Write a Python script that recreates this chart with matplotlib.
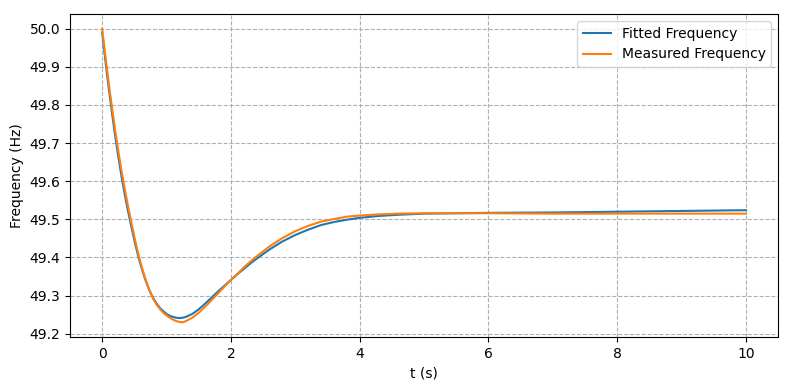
import numpy as np
import matplotlib
matplotlib.use("Agg")
import matplotlib.pyplot as plt

# values
t = [0.0, 0.05, 0.1, 0.15, 0.2, 0.25, 0.3, 0.35, 0.4, 0.45, 0.5, 0.55, 0.6,
     0.65, 0.7, 0.75, 0.8, 0.85, 0.9, 0.95, 1.0, 1.05, 1.1, 1.15, 1.2, 1.25,
     1.3, 1.4, 1.5, 1.6, 1.7, 1.8, 1.9, 2.0, 2.1, 2.2, 2.3, 2.4, 2.6, 2.8,
     3.0, 3.2, 3.4, 3.6, 3.8, 4.0, 4.3, 4.6, 5.0, 6.0, 7.0, 8.0, 9.0, 10.0]

f_meas = [50.000, 49.928, 49.860, 49.796, 49.736, 49.680, 49.628, 49.580,
          49.536, 49.494, 49.454, 49.417, 49.384, 49.355, 49.329, 49.307,
          49.289, 49.275, 49.264, 49.255, 49.248, 49.242, 49.237, 49.233,
          49.231, 49.230, 49.233, 49.242, 49.255, 49.271, 49.288, 49.306,
          49.324, 49.341, 49.357, 49.374, 49.389, 49.403, 49.429, 49.451,
          49.469, 49.483, 49.494, 49.501, 49.507, 49.510, 49.513, 49.515,
          49.516, 49.516, 49.515, 49.515, 49.515, 49.515]

f_fit = [49.990, 49.916, 49.847, 49.782, 49.721, 49.665, 49.613, 49.566,
         49.523, 49.483, 49.445, 49.410, 49.379, 49.352, 49.328, 49.308,
         49.291, 49.278, 49.267, 49.259, 49.252, 49.247, 49.244, 49.242,
         49.241, 49.242, 49.244, 49.252, 49.264, 49.279, 49.295, 49.311,
         49.326, 49.341, 49.356, 49.370, 49.384, 49.397, 49.421, 49.442,
         49.459, 49.473, 49.485, 49.493, 49.499, 49.504, 49.509, 49.512,
         49.515, 49.517, 49.518, 49.520, 49.522, 49.524]

fig, ax = plt.subplots(figsize=(7.9, 3.9), dpi=100)

ax.plot(t, f_fit, color='#1f77b4', label='Fitted Frequency')
ax.plot(t, f_meas, color='#ff7f0e', label='Measured Frequency')

ax.set_xlabel("t (s)")
ax.set_ylabel("Frequency (Hz)")
ax.grid(True, linestyle='--', color='#b0b0b0')
ax.legend(loc='upper right')

fig.subplots_adjust(left=0.0886, right=0.985, top=0.964, bottom=0.136)
fig.savefig("out.png")
